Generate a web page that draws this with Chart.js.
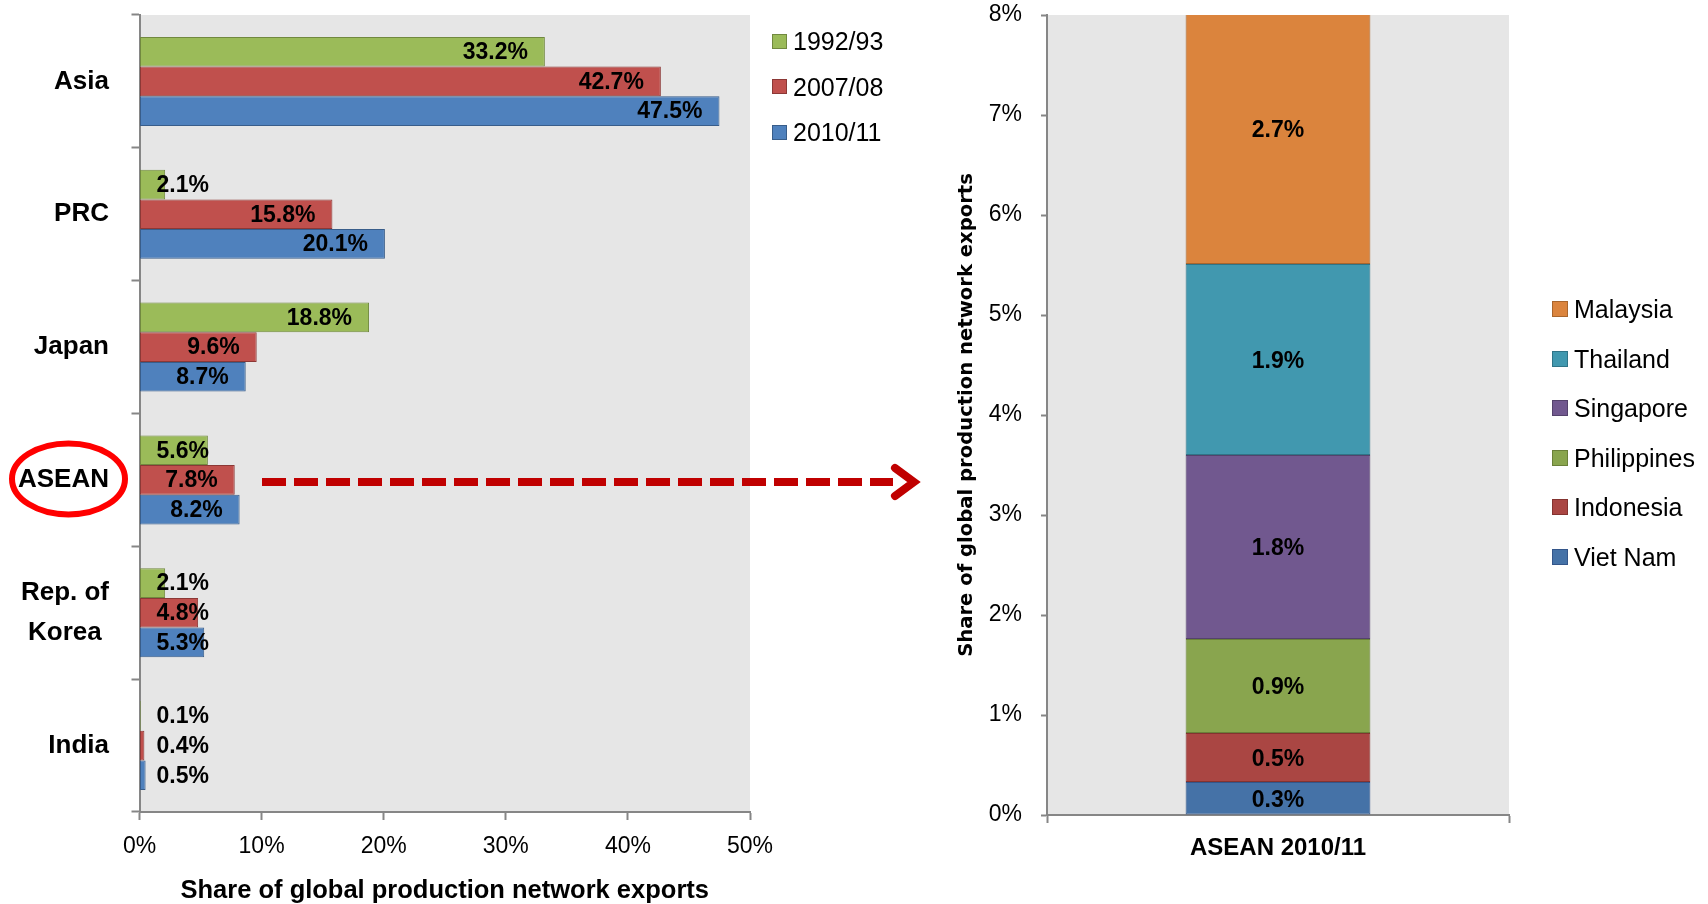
<!DOCTYPE html>
<html>
<head>
<meta charset="utf-8">
<title>Share of global production network exports</title>
<script src="https://cdn.jsdelivr.net/npm/chart.js@4.4.0/dist/chart.umd.min.js"></script>
<style>
  html, body { margin: 0; padding: 0; background: #fff; }
  body { width: 1708px; height: 904px; position: relative; overflow: hidden; font-family: 'Liberation Sans', Arial, sans-serif; }
  #left-chart { position: absolute; left: 0; top: 0; }
  #right-chart { position: absolute; left: 940px; top: 0; }
  .legend-item { position: absolute; display: flex; align-items: center; font-size: 25px; color: #000; white-space: nowrap; line-height: 30px; height: 30px; }
  .legend-box { box-sizing: border-box; border: 1px solid; margin-right: 6px; }
</style>
</head>
<body>
<canvas id="left-chart" width="940" height="904"></canvas>
<canvas id="right-chart" width="768" height="904"></canvas>
<div id="left-legend"></div>
<div id="right-legend"></div>
<script>
// ---------- data ----------
const regions = ['Asia', 'PRC', 'Japan', 'ASEAN', ['Rep. of', 'Korea '], 'India'];
const periods = ['1992/93', '2007/08', '2010/11'];
const share1992 = [33.2, 2.1, 18.8, 5.6, 2.1, 0.1];
const share2007 = [42.7, 15.8, 9.6, 7.8, 4.8, 0.4];
const share2010 = [47.5, 20.1, 8.7, 8.2, 5.3, 0.5];

const aseanCategory = ['ASEAN 2010/11'];
const aseanCountries = ['Viet Nam', 'Indonesia', 'Philippines', 'Singapore', 'Thailand', 'Malaysia'];
const aseanShares = [0.33, 0.49, 0.94, 1.84, 1.91, 2.7];

// ---------- styles ----------
const periodFill = ['#9BBB59', '#C0504D', '#4F81BD'];
const periodBorder = ['#71893F', '#8C3836', '#385D8A'];
const countryFill = ['#4572A7', '#AA4643', '#89A54E', '#71588F', '#4198AF', '#DB843D'];
const countryBorder = ['#34568A', '#843330', '#6A8039', '#54426C', '#2F7487', '#A9652C'];

const FONT = "'Liberation Sans', Arial, sans-serif";
const AXIS = '#868686';
const PLOT_BG = '#E6E6E6';

const plotBackground = {
  id: 'plotBackground',
  beforeDraw(chart) {
    const { ctx, chartArea: a } = chart;
    ctx.save();
    ctx.fillStyle = PLOT_BG;
    ctx.fillRect(a.left, a.top, a.right - a.left, a.bottom - a.top);
    ctx.restore();
  }
};

// drop the label padding chart.js reserves so the plot box lands where we want it
function fixBox(size) {
  return (scale) => {
    if (scale.isHorizontal()) scale.height = size; else scale.width = size;
    scale.paddingTop = 0; scale.paddingBottom = 0;
    scale.paddingLeft = 0; scale.paddingRight = 0;
  };
}

// Excel-like "inside end" labels, pushed right when the bar is too short
const barEndLabels = {
  id: 'barEndLabels',
  afterDatasetsDraw(chart) {
    const { ctx, chartArea } = chart;
    ctx.save();
    ctx.font = 'bold 23px ' + FONT;
    ctx.fillStyle = '#000';
    ctx.textAlign = 'right';
    ctx.textBaseline = 'middle';
    chart.data.datasets.forEach((ds, i) => {
      chart.getDatasetMeta(i).data.forEach((bar, j) => {
        const text = ds.data[j].toFixed(1) + '%';
        const w = ctx.measureText(text).width;
        const x = Math.max(bar.x - 17, chartArea.left + 17 + w);
        ctx.fillText(text, x, bar.y + 1);
      });
    });
    ctx.restore();
  }
};

// red ring round ASEAN and the dashed arrow to the breakdown
const aseanCallout = {
  id: 'aseanCallout',
  afterDraw(chart) {
    const { ctx } = chart;
    const y = chart.scales.y.getPixelForValue(regions.indexOf('ASEAN'));
    ctx.save();
    ctx.strokeStyle = '#FF0000';
    ctx.lineWidth = 6;
    ctx.beginPath();
    ctx.ellipse(68.5, y - 1, 56.5, 35.5, 0, 0, Math.PI * 2);
    ctx.stroke();

    const ay = y + 2;
    ctx.strokeStyle = '#C00000';
    ctx.lineWidth = 8;
    ctx.setLineDash([24, 8]);
    ctx.beginPath();
    ctx.moveTo(262, ay);
    ctx.lineTo(893, ay);
    ctx.stroke();
    ctx.setLineDash([]);
    ctx.lineCap = 'round';
    ctx.lineJoin = 'miter';
    ctx.beginPath();
    ctx.moveTo(895, ay - 14);
    ctx.lineTo(914, ay);
    ctx.lineTo(895, ay + 14);
    ctx.stroke();
    ctx.restore();
  }
};

// ---------- left: horizontal grouped bars ----------
const shares = [share1992, share2007, share2010];
new Chart(document.getElementById('left-chart'), {
  type: 'bar',
  data: {
    labels: regions,
    datasets: periods.map((p, i) => ({
      label: p,
      data: shares[i],
      backgroundColor: periodFill[i],
      borderColor: periodBorder[i],
      borderWidth: 1,
      borderSkipped: false,
      categoryPercentage: 0.67,
      barPercentage: 1.0
    }))
  },
  options: {
    indexAxis: 'y',
    responsive: false,
    animation: false,
    events: [],
    layout: { padding: { top: 15, right: 190, left: 0, bottom: 0 } },
    plugins: { legend: { display: false }, tooltip: { enabled: false } },
    scales: {
      x: {
        min: 0, max: 50,
        afterFit: fixBox(92),
        border: { display: true, color: AXIS, width: 2 },
        grid: { drawOnChartArea: false, drawTicks: true, tickLength: 8, tickColor: AXIS, tickWidth: 2 },
        ticks: { stepSize: 10, padding: 13, color: '#000', font: { family: FONT, size: 23 },
          callback: (v) => v + '%' },
        title: { display: true, text: 'Share of global production network exports', color: '#000',
          font: { family: FONT, size: 25.5, weight: 'bold' }, padding: { top: 0, bottom: -2 } }
      },
      y: {
        afterFit: fixBox(139.5),
        border: { display: true, color: AXIS, width: 2 },
        grid: { offset: true, drawOnChartArea: false, drawTicks: true, tickLength: 8, tickColor: AXIS, tickWidth: 2 },
        ticks: { padding: 22.5, color: '#000', font: { family: FONT, size: 26, weight: 'bold', lineHeight: 1.55 } }
      }
    }
  },
  plugins: [plotBackground, barEndLabels, aseanCallout]
});

// ---------- right: stacked ASEAN breakdown ----------
const stackLabels = {
  id: 'stackLabels',
  afterDatasetsDraw(chart) {
    const { ctx } = chart;
    ctx.save();
    ctx.font = 'bold 23px ' + FONT;
    ctx.fillStyle = '#000';
    ctx.textAlign = 'center';
    ctx.textBaseline = 'middle';
    chart.data.datasets.forEach((ds, i) => {
      chart.getDatasetMeta(i).data.forEach((bar, j) => {
        ctx.fillText(ds.data[j].toFixed(1) + '%', bar.x, (bar.y + bar.base) / 2 + 2);
      });
    });
    ctx.restore();
  }
};

new Chart(document.getElementById('right-chart'), {
  type: 'bar',
  data: {
    labels: aseanCategory,
    datasets: aseanCountries.map((c, i) => ({
      label: c,
      data: [aseanShares[i]],
      backgroundColor: countryFill[i],
      borderColor: countryBorder[i],
      borderWidth: 1,
      borderSkipped: false,
      categoryPercentage: 1.0,
      barPercentage: 0.4
    }))
  },
  options: {
    responsive: false,
    animation: false,
    events: [],
    layout: { padding: { top: 15, right: 199, left: 0, bottom: 0 } },
    plugins: { legend: { display: false }, tooltip: { enabled: false } },
    scales: {
      x: {
        stacked: true,
        afterFit: fixBox(89),
        border: { display: true, color: AXIS, width: 2 },
        grid: { offset: true, drawOnChartArea: false, drawTicks: true, tickLength: 8, tickColor: AXIS, tickWidth: 2 },
        ticks: { padding: 11, color: '#000', font: { family: FONT, size: 24, weight: 'bold' } }
      },
      y: {
        stacked: true,
        min: 0, max: 8,
        afterFit: fixBox(107),
        border: { display: true, color: AXIS, width: 2 },
        grid: { drawOnChartArea: false, drawTicks: true, tickLength: 6, tickColor: AXIS, tickWidth: 2 },
        ticks: { stepSize: 1, padding: 19, color: '#000', font: { family: FONT, size: 23 },
          callback: (v) => v + '%' },
        title: { display: true, text: 'Share of global production network exports', color: '#000',
          font: { family: "'DejaVu Sans', sans-serif", size: 19.6, weight: 'bold' }, padding: { top: 15.2, bottom: 0 } }
      }
    }
  },
  plugins: [plotBackground, stackLabels]
});

// ---------- legends ----------
function buildLegend(containerId, names, fills, borders, x, y0, step, box) {
  const el = document.getElementById(containerId);
  names.forEach((name, i) => {
    const item = document.createElement('div');
    item.className = 'legend-item';
    item.style.left = x + 'px';
    item.style.top = (y0 + i * step - 15) + 'px';
    const sw = document.createElement('span');
    sw.className = 'legend-box';
    sw.style.width = box + 'px';
    sw.style.height = box + 'px';
    sw.style.background = fills[i];
    sw.style.borderColor = borders[i];
    item.appendChild(sw);
    item.appendChild(document.createTextNode(name));
    el.appendChild(item);
  });
}

buildLegend('left-legend', periods, periodFill, periodBorder, 772, 41, 45.5, 15);
buildLegend('right-legend', aseanCountries.slice().reverse(), countryFill.slice().reverse(),
  countryBorder.slice().reverse(), 1552, 309, 49.6, 16);
</script>
</body>
</html>
